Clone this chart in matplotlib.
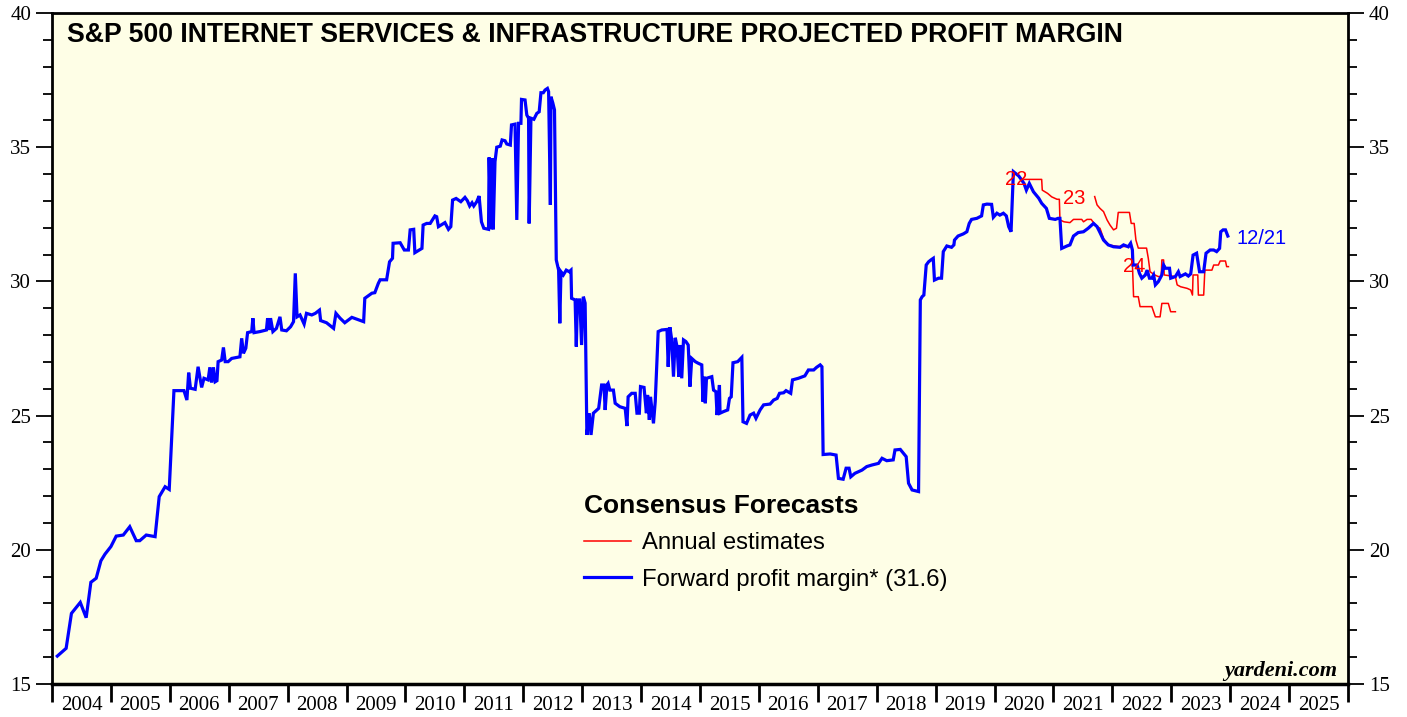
import matplotlib
matplotlib.use("Agg")
import matplotlib.pyplot as plt
from matplotlib.ticker import MultipleLocator, FixedLocator, NullFormatter, FixedFormatter

# forward profit margin (decimal year, percent)
blue_x = [2004.09, 2004.24, 2004.33, 2004.48, 2004.58, 2004.66, 2004.75, 2004.83, 2004.90, 2005.00,
          2005.09, 2005.21, 2005.32, 2005.43, 2005.49, 2005.60, 2005.75, 2005.82, 2005.92, 2005.99,
          2006.07, 2006.24, 2006.29, 2006.32, 2006.35, 2006.43, 2006.48, 2006.54, 2006.58, 2006.65,
          2006.68, 2006.71, 2006.74, 2006.77, 2006.80, 2006.82, 2006.88, 2006.91, 2006.94, 2006.99,
          2007.05, 2007.19, 2007.22, 2007.25, 2007.29, 2007.32, 2007.39, 2007.41, 2007.43, 2007.53,
          2007.64, 2007.66, 2007.69, 2007.71, 2007.75, 2007.81, 2007.87, 2007.90, 2007.98, 2008.05,
          2008.10, 2008.13, 2008.15, 2008.16, 2008.21, 2008.28, 2008.32, 2008.41, 2008.47, 2008.54,
          2008.56, 2008.66, 2008.78, 2008.82, 2008.89, 2008.97, 2009.09, 2009.29, 2009.31, 2009.43,
          2009.48, 2009.54, 2009.57, 2009.68, 2009.73, 2009.78, 2009.79, 2009.91, 2009.98, 2010.05,
          2010.08, 2010.14, 2010.16, 2010.28, 2010.30, 2010.36, 2010.42, 2010.50, 2010.53, 2010.56,
          2010.67, 2010.73, 2010.77, 2010.80, 2010.86, 2010.94, 2011.01, 2011.05, 2011.09, 2011.13,
          2011.16, 2011.21, 2011.25, 2011.29, 2011.33, 2011.41, 2011.42, 2011.45, 2011.48, 2011.49,
          2011.52, 2011.55, 2011.61, 2011.64, 2011.69, 2011.72, 2011.78, 2011.80, 2011.86, 2011.89,
          2011.92, 2011.96, 2011.97, 2012.03, 2012.06, 2012.09, 2012.10, 2012.13, 2012.18, 2012.23,
          2012.27, 2012.30, 2012.34, 2012.37, 2012.41, 2012.43, 2012.46, 2012.47, 2012.50, 2012.53,
          2012.56, 2012.60, 2012.62, 2012.64, 2012.68, 2012.73, 2012.78, 2012.81, 2012.82, 2012.88,
          2012.90, 2012.92, 2012.96, 2012.99, 2013.02, 2013.05, 2013.08, 2013.12, 2013.15, 2013.19,
          2013.28, 2013.33, 2013.37, 2013.39, 2013.42, 2013.44, 2013.47, 2013.53, 2013.56, 2013.64,
          2013.73, 2013.76, 2013.78, 2013.84, 2013.90, 2013.93, 2013.97, 2013.99, 2014.05, 2014.09,
          2014.11, 2014.14, 2014.16, 2014.21, 2014.24, 2014.29, 2014.35, 2014.44, 2014.46, 2014.49,
          2014.52, 2014.55, 2014.58, 2014.61, 2014.64, 2014.66, 2014.69, 2014.72, 2014.76, 2014.80,
          2014.83, 2014.86, 2014.92, 2014.97, 2015.03, 2015.05, 2015.07, 2015.09, 2015.11, 2015.20,
          2015.23, 2015.27, 2015.29, 2015.33, 2015.34, 2015.40, 2015.47, 2015.50, 2015.53, 2015.56,
          2015.64, 2015.71, 2015.73, 2015.79, 2015.85, 2015.91, 2015.95, 2016.02, 2016.08, 2016.19,
          2016.25, 2016.31, 2016.35, 2016.42, 2016.46, 2016.54, 2016.57, 2016.67, 2016.78, 2016.84,
          2016.93, 2016.98, 2017.04, 2017.07, 2017.09, 2017.21, 2017.31, 2017.35, 2017.43, 2017.48,
          2017.53, 2017.56, 2017.63, 2017.75, 2017.83, 2017.92, 2018.03, 2018.09, 2018.17, 2018.28,
          2018.31, 2018.40, 2018.43, 2018.50, 2018.54, 2018.60, 2018.71, 2018.74, 2018.77, 2018.80,
          2018.84, 2018.88, 2018.92, 2018.96, 2018.98, 2019.05, 2019.10, 2019.13, 2019.19, 2019.27,
          2019.31, 2019.32, 2019.38, 2019.47, 2019.53, 2019.57, 2019.61, 2019.70, 2019.78, 2019.81,
          2019.87, 2019.95, 2019.98, 2020.04, 2020.09, 2020.15, 2020.20, 2020.24, 2020.28, 2020.32,
          2020.41, 2020.46, 2020.50, 2020.54, 2020.59, 2020.66, 2020.75, 2020.80, 2020.88, 2020.93,
          2021.03, 2021.08, 2021.11, 2021.14, 2021.23, 2021.28, 2021.34, 2021.42, 2021.51, 2021.59,
          2021.68, 2021.74, 2021.79, 2021.85, 2021.93, 2022.02, 2022.13, 2022.19, 2022.27, 2022.31,
          2022.34, 2022.35, 2022.42, 2022.46, 2022.50, 2022.56, 2022.59, 2022.63, 2022.67, 2022.70,
          2022.73, 2022.78, 2022.84, 2022.87, 2022.90, 2022.97, 2022.99, 2023.07, 2023.12, 2023.15,
          2023.24, 2023.29, 2023.33, 2023.37, 2023.43, 2023.48, 2023.55, 2023.59, 2023.66, 2023.72,
          2023.77, 2023.82, 2023.84, 2023.88, 2023.92, 2023.96]
blue_y = [16.04, 16.33, 17.63, 18.04, 17.47, 18.79, 18.94, 19.59, 19.84, 20.12,
          20.51, 20.55, 20.86, 20.34, 20.34, 20.55, 20.49, 21.98, 22.35, 22.25,
          25.93, 25.93, 25.58, 26.60, 26.02, 25.98, 26.82, 26.05, 26.39, 26.33,
          26.80, 26.23, 26.80, 26.26, 26.30, 27.01, 27.07, 27.54, 27.01, 27.01,
          27.13, 27.19, 27.88, 27.32, 27.51, 28.09, 28.13, 28.63, 28.09, 28.13,
          28.19, 28.63, 28.19, 28.63, 28.13, 28.25, 28.68, 28.19, 28.16, 28.31,
          28.50, 30.30, 29.18, 28.68, 28.75, 28.41, 28.81, 28.75, 28.81, 28.93,
          28.54, 28.46, 28.25, 28.81, 28.63, 28.46, 28.66, 28.50, 29.37, 29.56,
          29.58, 29.93, 30.06, 30.06, 30.73, 30.86, 31.42, 31.44, 31.17, 31.17,
          31.92, 31.94, 31.07, 31.23, 32.10, 32.16, 32.16, 32.44, 32.41, 32.04,
          32.19, 31.94, 32.04, 33.03, 33.09, 32.97, 33.13, 33.01, 32.81, 32.93,
          32.81, 32.97, 33.18, 32.22, 31.98, 31.94, 34.62, 31.94, 34.59, 31.94,
          34.46, 35.00, 35.04, 35.27, 35.24, 35.12, 35.08, 35.83, 35.86, 32.29,
          35.89, 35.89, 36.78, 36.76, 36.20, 36.08, 32.16, 36.08, 36.04, 36.26,
          36.32, 37.03, 37.03, 37.13, 37.19, 37.07, 32.85, 36.88, 36.66, 36.39,
          30.80, 30.42, 28.44, 30.36, 30.24, 30.42, 30.36, 30.42, 29.37, 29.31,
          27.57, 29.31, 29.31, 27.63, 29.43, 29.19, 24.28, 25.09, 24.28, 25.09,
          25.27, 26.14, 26.14, 25.21, 26.14, 26.20, 25.95, 25.95, 25.46, 25.33,
          25.27, 24.61, 25.70, 25.83, 25.83, 25.09, 25.09, 26.08, 26.05, 25.09,
          25.77, 24.84, 25.70, 24.71, 25.52, 28.13, 28.19, 28.21, 26.82, 28.29,
          27.82, 26.45, 27.90, 27.57, 26.45, 27.63, 26.39, 27.82, 27.76, 27.63,
          26.08, 27.13, 27.01, 26.95, 26.89, 25.52, 26.45, 25.46, 26.39, 26.45,
          25.95, 25.89, 25.02, 26.14, 25.09, 25.15, 25.21, 25.64, 25.70, 26.97,
          27.01, 27.17, 24.77, 24.71, 25.02, 25.09, 24.90, 25.21, 25.40, 25.43,
          25.58, 25.64, 25.83, 25.85, 25.93, 25.83, 26.33, 26.39, 26.48, 26.70,
          26.70, 26.80, 26.89, 26.82, 23.55, 23.57, 23.53, 22.66, 22.63, 23.04,
          23.04, 22.72, 22.85, 22.97, 23.10, 23.16, 23.22, 23.41, 23.32, 23.35,
          23.72, 23.74, 23.66, 23.47, 22.48, 22.23, 22.17, 29.31, 29.43, 29.49,
          30.61, 30.73, 30.80, 30.86, 30.05, 30.12, 30.12, 31.11, 31.32, 31.27,
          31.36, 31.54, 31.69, 31.77, 31.85, 32.16, 32.31, 32.35, 32.44, 32.85,
          32.88, 32.87, 32.39, 32.54, 32.47, 32.54, 32.44, 32.04, 31.85, 34.09,
          33.93, 33.78, 33.65, 33.40, 33.65, 33.34, 33.10, 32.91, 32.72, 32.35,
          32.31, 32.35, 32.35, 31.23, 31.32, 31.36, 31.69, 31.82, 31.85, 31.98,
          32.16, 32.04, 31.82, 31.54, 31.36, 31.29, 31.27, 31.36, 31.29, 31.42,
          31.17, 30.61, 30.61, 30.30, 30.12, 30.24, 30.42, 30.12, 30.12, 30.24,
          29.87, 29.99, 30.24, 30.61, 30.49, 30.49, 30.12, 30.18, 30.36, 30.18,
          30.28, 30.20, 30.28, 30.98, 31.05, 30.36, 30.36, 31.05, 31.17, 31.17,
          31.11, 31.23, 31.85, 31.92, 31.92, 31.69]

# annual estimates
est22_x = [2020.50, 2020.62, 2020.80, 2020.81, 2020.90, 2020.97, 2021.06, 2021.10, 2021.11, 2021.18,
           2021.28, 2021.34, 2021.48, 2021.51, 2021.57, 2021.64, 2021.68, 2021.74, 2021.79, 2021.85,
           2021.93, 2022.10, 2022.33, 2022.36, 2022.44, 2022.47, 2022.67, 2022.73, 2022.81, 2022.84,
           2022.95, 2022.99, 2023.07]
est22_y = [33.80, 33.80, 33.80, 33.40, 33.28, 33.15, 33.06, 33.06, 32.29, 32.22,
           32.19, 32.31, 32.31, 32.22, 32.31, 32.31, 32.19, 32.04, 31.98, 31.60,
           31.36, 31.30, 31.30, 29.43, 29.43, 29.06, 29.06, 28.68, 28.68, 29.18,
           29.18, 28.87, 28.87]

est23_x = [2021.70, 2021.74, 2021.79, 2021.85, 2021.91, 2021.96, 2022.02, 2022.07, 2022.10, 2022.29,
           2022.32, 2022.37, 2022.40, 2022.44, 2022.58, 2022.61, 2022.64, 2022.72, 2022.78, 2022.83,
           2022.84, 2022.87, 2022.88, 2023.07, 2023.10, 2023.16, 2023.27, 2023.33, 2023.36, 2023.37,
           2023.45, 2023.46, 2023.55, 2023.57, 2023.69, 2023.72, 2023.80, 2023.83, 2023.92, 2023.94,
           2023.97]
est23_y = [33.16, 32.85, 32.72, 32.60, 32.29, 32.10, 31.92, 31.98, 32.57, 32.57,
           32.16, 32.16, 31.54, 31.24, 31.24, 30.86, 30.36, 30.24, 30.18, 30.18,
           30.80, 30.80, 30.24, 30.18, 29.87, 29.80, 29.74, 29.68, 29.49, 30.24,
           30.24, 29.49, 29.49, 30.42, 30.42, 30.61, 30.61, 30.76, 30.76, 30.55,
           30.55]

years = list(range(2004, 2026))
year_labels = [str(y) for y in years]

SANS = "Liberation Sans"
SERIF = "Liberation Serif"

fig = plt.figure(figsize=(14.07, 7.17), dpi=100)
ax = fig.add_axes([52 / 1407, 33 / 717, 1296 / 1407, 671 / 717])
ax.set_facecolor("#fefee6")

ax.plot(est22_x, est22_y, color="#ff0000", lw=1.1, label="Annual estimates")
ax.plot(est23_x, est23_y, color="#ff0000", lw=1.1, label="_nolegend_")
ax.plot(blue_x, blue_y, color="#0000ff", lw=2.3, label="Forward profit margin* (31.6)",
        solid_joinstyle="miter")

ax.set_xlim(2004, 2026)
ax.set_ylim(15, 40)

# year boundaries as ticks, year names centered between them
ax.xaxis.set_major_locator(FixedLocator(list(range(2004, 2027))))
ax.xaxis.set_major_formatter(NullFormatter())
ax.xaxis.set_minor_locator(FixedLocator([y + 0.5 for y in years]))
ax.xaxis.set_minor_formatter(FixedFormatter(year_labels))
ax.tick_params(axis="x", which="major", direction="out", length=13, width=2)
ax.tick_params(axis="x", which="minor", length=0, pad=9, labelsize=15)

ax.yaxis.set_major_locator(MultipleLocator(5))
ax.yaxis.set_minor_locator(MultipleLocator(1))
ax.tick_params(axis="y", which="major", direction="out", length=11.5, width=1.3,
               left=True, right=True, labelleft=True, labelright=True, labelsize=15, pad=3.5)
ax.tick_params(axis="y", which="minor", direction="out", length=6.5, width=1.3,
               left=True, right=True)

for lab in ax.get_xticklabels(minor=True) + ax.get_yticklabels():
    lab.set_fontfamily(SERIF)
for lab in ax.yaxis.get_ticklabels(which="both"):
    lab.set_fontfamily(SERIF)

for side in ["left", "right", "top"]:
    ax.spines[side].set_linewidth(2)
ax.spines["bottom"].set_linewidth(2.5)

ax.text(0.0116, 0.9568, "S&P 500 INTERNET SERVICES & INFRASTRUCTURE PROJECTED PROFIT MARGIN",
        transform=ax.transAxes, fontsize=19.2, fontweight="bold", family=SANS, va="baseline")

ax.text(2020.36, 33.8, "22", color="#ff0000", fontsize=14.5, family=SANS, ha="center", va="center")
ax.text(2021.35, 33.1, "23", color="#ff0000", fontsize=14.5, family=SANS, ha="center", va="center")
ax.text(2022.37, 30.55, "24", color="#ff0000", fontsize=14.5, family=SANS, ha="center", va="center")
ax.text(2024.10, 31.6, "12/21", color="#0000ff", fontsize=14.5, family=SANS, ha="left", va="center")

ax.text(0.9915, 0.012, "yardeni.com", transform=ax.transAxes, fontsize=16, family=SERIF,
        fontweight="bold", style="italic", ha="right", va="baseline")

leg = ax.legend(loc="upper left", bbox_to_anchor=(0.401, 0.301), frameon=False,
                title="Consensus Forecasts", alignment="left",
                prop={"family": SANS, "size": 17.2},
                title_fontproperties={"family": SANS, "size": 19, "weight": "bold"},
                handlelength=2.0, handletextpad=0.43, labelspacing=0.6, borderpad=0)

fig.savefig("out.png", dpi=100)
